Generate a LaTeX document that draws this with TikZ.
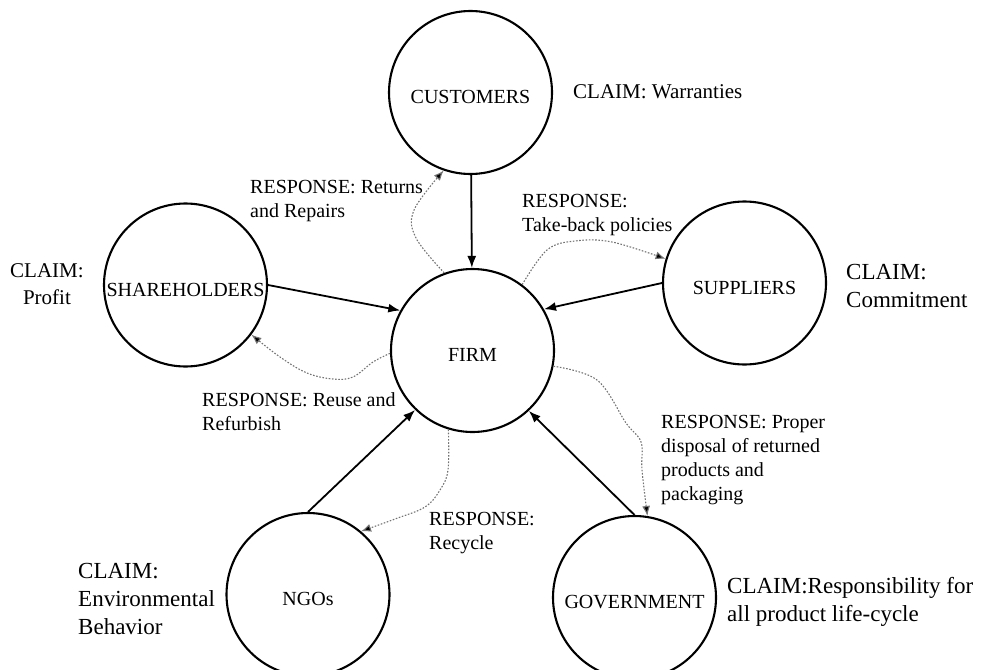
\documentclass[tikz,border=0pt]{standalone}
\usepackage{fontspec}
\setmainfont{Liberation Serif}
\usetikzlibrary{arrows.meta}

\newcommand\stacklines[1]{\begin{tabular}[t]{@{}l@{}}#1\end{tabular}}
\newcommand\stackcentred[1]{\begin{tabular}[t]{@{}c@{}}#1\end{tabular}}

\tikzset{
  party/.style={circle, draw, line width=2.1pt, minimum size=163pt, inner sep=0pt,
    font=\fontsize{20}{24}\selectfont, text height=22pt, text depth=0pt},
  claim/.style={anchor=base west, inner sep=0pt, font=\fontsize{23}{28}\selectfont},
  response/.style={anchor=base west, inner sep=0pt, font=\fontsize{20}{24}\selectfont},
  claimarrow/.style={line width=1.8pt, -{Latex[length=12pt,width=9pt]}},
  responsearrow/.style={draw=black!55, line width=1.1pt, dash pattern=on 1.6pt off 1.6pt,
    -{Latex[length=10pt,width=8pt,fill=black]}},
}

\begin{document}
\begin{tikzpicture}[x=1pt, y=-1pt]
\useasboundingbox (0,0) rectangle (981,669);

% stakeholders and the firm
\node[party] (cust) at (470.5,92.5) {CUSTOMERS};
\node[party] (sh)   at (185.5,285)  {SHAREHOLDERS};
\node[party] (firm) at (472.5,350.5) {FIRM};
\node[party] (sup)  at (744.5,283)  {SUPPLIERS};
\node[party] (ngo)  at (308,594.5)  {NGOs};
\node[party] (gov)  at (634.5,597.5) {GOVERNMENT};

% claims
\node[claim, font=\fontsize{21}{26}\selectfont] (c1) at (573,98) {CLAIM: Warranties};
\node[claim, font=\fontsize{21}{27}\selectfont] (c2) at (10,277) {\stackcentred{CLAIM:\\Profit}};
\node[claim] (c3) at (846,279) {\stacklines{CLAIM:\\Commitment}};
\node[claim] (c4) at (78,578) {\stacklines{CLAIM:\\Environmental\\Behavior}};
\node[claim] (c5) at (727,593) {\stacklines{CLAIM:Responsibility for\\all product life-cycle}};

% responses
\node[response] (r1) at (250,193) {\stacklines{RESPONSE: Returns\\and Repairs}};
\node[response] (r2) at (522,207) {\stacklines{RESPONSE:\\Take-back policies}};
\node[response] (r3) at (202,406) {\stacklines{RESPONSE: Reuse and\\Refurbish}};
\node[response] (r4) at (429,525) {\stacklines{RESPONSE:\\Recycle}};
\node[response] (r5) at (661,428) {\stacklines{RESPONSE: Proper\\disposal of returned\\products and\\packaging}};

% claims made on the firm
\draw[claimarrow] (cust) -- (firm);
\draw[claimarrow] (sh.east) -- (firm.151);
\draw[claimarrow] (sup.west) -- (firm.30);
\draw[claimarrow] (ngo.north) -- (firm.226);
\draw[claimarrow] (gov.north) -- (firm.313);

% responses of the firm
\draw[responsearrow] plot[smooth, tension=0.6] coordinates
  {(firm.110) (416,238) (414,210) (cust.251)};
\draw[responsearrow] plot[smooth, tension=0.6] coordinates
  {(firm.53) (547,250) (575,241) (612,242) (sup.163)};
\draw[responsearrow] plot[smooth, tension=0.6] coordinates
  {(firm.182) (373,362) (353,377) (333,379) (307,373) (280,357) (sh.323)};
\draw[responsearrow] plot[smooth, tension=0.6] coordinates
  {(firm.253) (448,470) (440,490) (425,507) (395,519) (ngo.50)};
\draw[responsearrow] plot[smooth, tension=0.6] coordinates
  {(firm.349) (597,380) (626,423) (641,442) (642,470) (gov.81)};
\end{tikzpicture}
\end{document}
